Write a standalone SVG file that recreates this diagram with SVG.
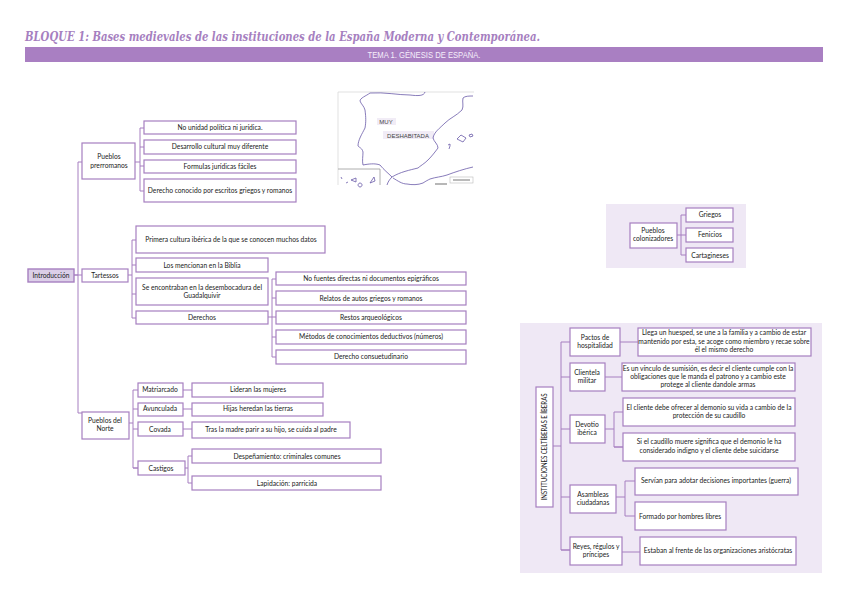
<svg xmlns="http://www.w3.org/2000/svg" width="848" height="600" viewBox="0 0 848 600">
<style>
text{font-family:Lato,"Liberation Sans",sans-serif;font-size:6.7px;fill:#222;text-anchor:middle}
.n rect{fill:#fff;stroke:#a67fc0;stroke-width:1.2}
.c path{fill:none;stroke:#a67fc0;stroke-width:1}
.m{fill:none;stroke:#6a5aa8;stroke-width:0.8}
.title{font-family:"DejaVu Serif",serif;font-style:italic;font-weight:bold;font-size:13.5px;fill:#a67fc0;text-anchor:start}
</style>
<rect x="606" y="204" width="140" height="64" fill="#efe8f5"/>
<rect x="520" y="323" width="302" height="250" fill="#efe8f5"/>
<text class="title" x="25" y="41" textLength="515" lengthAdjust="spacingAndGlyphs">BLOQUE 1: Bases medievales de las instituciones de la España Moderna y Contemporánea.</text>
<rect x="25" y="47" width="798" height="15" fill="#a97fc2"/>
<text x="424" y="58" style="font-size:9px;fill:#f5eefa;font-family:'Liberation Sans',sans-serif" textLength="113" lengthAdjust="spacingAndGlyphs">TEMA 1. GÉNESIS DE ESPAÑA.</text>
<g id="mapa">
<path d="M338 92H474M338 92V185" fill="none" stroke="#d4d4d4" stroke-width="0.7"/>
<path d="M338 169H380V185" fill="none" stroke="#999" stroke-width="0.8"/>
<rect x="377" y="118" width="19" height="7" fill="#f1ecf6"/>
<rect x="383" y="131" width="51" height="8" fill="#f1ecf6"/>
<path class="m" d="M425 92C424 96 418 96 410 95C398 95 385 92 370 93C366 96 360 98 360 101C361 104 364 106 365 110C366 118 366 122 365 128C362 134 358 140 358 146C360 148 362 148 363 152C363 156 362 161 363 165C368 164 375 163 380 165C384 170 388 173 392 177C389 180 388 182 387 185"/>
<path class="m" d="M473 96C469 96 465 96 463 98C462 102 464 106 462 110C456 116 450 118 445 123C440 128 434 132 433 138C434 142 438 144 438 148C435 152 432 156 428 160C424 164 420 166 418 168C410 170 400 172 392 177"/>
<path class="m" d="M393 178C398 181 402 184 407 184C412 185 418 185 423 183C426 181 428 180 430 179C436 177 441 177 447 175C455 172 464 169 473 167"/>
<path class="m" d="M457 139l4-4 5 3-3 4zM469 135l3-1 1 2-3 1zM448 145l2-1 0 2-1 3"/>
<path class="m" d="M341 177l1 2M346 183l2-1M351 180l5-2 0 4zM360 183a2 2 0 1 0 .1 0M370 183l4-6 1 4z"/>
<rect x="450" y="177" width="23" height="6" fill="#fff" stroke="#bbb" stroke-width="0.6"/>
<path d="M453 180H470" stroke="#777" stroke-width="1"/>
<path d="M435 184H447" stroke="#999" stroke-width="1.4"/>
<text x="386" y="124" style="font-size:6px;fill:#444;font-family:'Liberation Sans',sans-serif">MUY</text>
<text x="408" y="138" style="font-size:6px;fill:#444;font-family:'Liberation Sans',sans-serif">DESHABITADA</text>
</g>
<g class="c" id="conectores">
<path d="M74 275H78M78 162V413H82M78 162H82M74 275H82"/>
<path d="M135 162H140M140 128V191H144M140 128H144M140 147H144M140 166H144"/>
<path d="M128 275H132M132 240V318H136M132 240H136M132 265H136M132 294H136"/>
<path d="M268 317H272M272 279V357H276M272 279H276M272 298H276M272 317H276M272 337H276"/>
<path d="M129 423H133M133 390V468H138M133 390H138M133 409H138M133 429H138M133 468H138"/>
<path d="M183 390H192M183 409H192M183 429H192M185 468H188M188 456V483H192M188 456H192"/>
<path d="M677 235H681M681 215V255H686M681 215H686M681 235H686"/>
<path d="M553 446H561M561 342V550H570M561 342H570M561 377H570M561 429H570M561 497H570M561 550H570"/>
<path d="M620 342H638M605 377H622M605 429H614M614 412V447H623M614 412H623M614 447H623"/>
<path d="M616 497H625M625 481V516H635M625 481H635M622 552H640"/>
</g>
<g id="introduccion"><rect x="28" y="269" width="46" height="13" fill="#dccfe8" stroke="#a67fc0" stroke-width="1.4"/><text x="51" y="278">Introducción</text></g>
<g class="n" id="prerromanos"><rect x="82" y="143" width="53" height="36"/><text x="109" y="159">Pueblos</text><text x="109" y="168">prerromanos</text></g>
<g class="n" id="p1"><rect x="144" y="121" width="152" height="13"/><text x="220" y="130">No unidad política ni jurídica.</text></g>
<g class="n" id="p2"><rect x="144" y="140" width="152" height="14"/><text x="220" y="149">Desarrollo cultural muy diferente</text></g>
<g class="n" id="p3"><rect x="144" y="160" width="152" height="13"/><text x="220" y="169">Formulas jurídicas fáciles</text></g>
<g class="n" id="p4"><rect x="144" y="179" width="152" height="23"/><text x="220" y="193">Derecho conocido por escritos griegos y romanos</text></g>
<g class="n" id="tartessos"><rect x="82" y="269" width="46" height="13"/><text x="105" y="278">Tartessos</text></g>
<g class="n" id="t1"><rect x="136" y="226" width="189" height="27"/><text x="231" y="242">Primera cultura ibérica de la que se conocen muchos datos</text></g>
<g class="n" id="t2"><rect x="136" y="258" width="132" height="14"/><text x="202" y="268">Los mencionan en la Biblia</text></g>
<g class="n" id="t3"><rect x="136" y="278" width="132" height="27"/><text x="202" y="290">Se encontraban en la desembocadura del</text><text x="202" y="298">Guadalquivir</text></g>
<g class="n" id="t4"><rect x="136" y="311" width="132" height="13"/><text x="202" y="320">Derechos</text></g>
<g class="n" id="d1"><rect x="276" y="272" width="190" height="13"/><text x="371" y="281">No fuentes directas ni documentos epigráficos</text></g>
<g class="n" id="d2"><rect x="276" y="291" width="190" height="14"/><text x="371" y="301">Relatos de autos griegos y romanos</text></g>
<g class="n" id="d3"><rect x="276" y="311" width="190" height="13"/><text x="371" y="320">Restos arqueológicos</text></g>
<g class="n" id="d4"><rect x="276" y="330" width="190" height="14"/><text x="371" y="339">Métodos de conocimientos deductivos (números)</text></g>
<g class="n" id="d5"><rect x="276" y="350" width="190" height="14"/><text x="371" y="359">Derecho consuetudinario</text></g>
<g class="n" id="norte"><rect x="82" y="412" width="47" height="27"/><text x="105" y="423">Pueblos del</text><text x="105" y="431">Norte</text></g>
<g class="n" id="n1"><rect x="138" y="383" width="45" height="14"/><text x="160" y="392">Matriarcado</text></g>
<g class="n" id="n2"><rect x="138" y="403" width="45" height="13"/><text x="160" y="411">Avunculada</text></g>
<g class="n" id="n3"><rect x="138" y="422" width="45" height="14"/><text x="160" y="432">Covada</text></g>
<g class="n" id="n4"><rect x="138" y="461" width="47" height="14"/><text x="161" y="471">Castigos</text></g>
<g class="n" id="n1b"><rect x="192" y="383" width="131" height="14"/><text x="258" y="392">Lideran las mujeres</text></g>
<g class="n" id="n2b"><rect x="192" y="403" width="131" height="13"/><text x="258" y="411">Hijas heredan las tierras</text></g>
<g class="n" id="n3b"><rect x="192" y="422" width="158" height="16"/><text x="271" y="432">Tras la madre parir a su hijo, se cuida al padre</text></g>
<g class="n" id="n4a"><rect x="192" y="449" width="189" height="14"/><text x="287" y="459">Despeñamiento: criminales comunes</text></g>
<g class="n" id="n4b"><rect x="192" y="476" width="189" height="14"/><text x="287" y="486">Lapidación: parricida</text></g>
<g class="n" id="colonizadores"><rect x="630" y="223" width="47" height="25"/><text x="653" y="233">Pueblos</text><text x="653" y="241">colonizadores</text></g>
<g class="n" id="c1"><rect x="686" y="208" width="47" height="14"/><text x="710" y="217">Griegos</text></g>
<g class="n" id="c2"><rect x="686" y="228" width="47" height="14"/><text x="710" y="237">Fenicios</text></g>
<g class="n" id="c3"><rect x="686" y="248" width="47" height="14"/><text x="710" y="258">Cartagineses</text></g>
<g class="n" id="instituciones"><rect x="536" y="387" width="17" height="120"/><text transform="translate(547 447) rotate(-90)" textLength="107" lengthAdjust="spacingAndGlyphs">INSTITUCIONES CELTÍBERAS E ÍBERAS</text></g>
<g class="n" id="i1"><rect x="570" y="328" width="50" height="28"/><text x="595" y="340">Pactos de</text><text x="595" y="348">hospitalidad</text></g>
<g class="n" id="i1a"><rect x="638" y="328" width="173" height="28"/><text x="724" y="335">Llega un huesped, se une a la familia y a cambio de estar</text><text x="724" y="344">mantenido por esta, se acoge como miembro y recae sobre</text><text x="724" y="352">él el mismo derecho</text></g>
<g class="n" id="i2"><rect x="570" y="363" width="35" height="28"/><text x="587" y="375">Clientela</text><text x="587" y="383">militar</text></g>
<g class="n" id="i2a"><rect x="622" y="363" width="173" height="28"/><text x="708" y="371">Es un vínculo de sumisión, es decir el cliente cumple con la</text><text x="708" y="379">obligaciones que le manda el patrono y a cambio este</text><text x="708" y="387">protege al cliente dandole armas</text></g>
<g class="n" id="i3"><rect x="570" y="415" width="35" height="28"/><text x="587" y="427">Devotio</text><text x="587" y="435">ibérica</text></g>
<g class="n" id="i3a"><rect x="623" y="398" width="172" height="28"/><text x="709" y="410">El cliente debe ofrecer al demonio su vida a cambio de la</text><text x="709" y="418">protección de su caudillo</text></g>
<g class="n" id="i3b"><rect x="623" y="433" width="172" height="28"/><text x="709" y="444">Si el caudillo muere significa que el demonio le ha</text><text x="709" y="453">considerado indigno y el cliente debe suicidarse</text></g>
<g class="n" id="i4"><rect x="570" y="485" width="46" height="28"/><text x="593" y="497">Asambleas</text><text x="593" y="505">ciudadanas</text></g>
<g class="n" id="i4a"><rect x="635" y="468" width="163" height="27"/><text x="716" y="483">Servían para adotar decisiones importantes (guerra)</text></g>
<g class="n" id="i4b"><rect x="635" y="502" width="91" height="28"/><text x="680" y="519">Formado por hombres libres</text></g>
<g class="n" id="i5"><rect x="570" y="537" width="52" height="28"/><text x="596" y="549">Reyes, régulos y</text><text x="596" y="557">príncipes</text></g>
<g class="n" id="i5a"><rect x="640" y="537" width="156" height="28"/><text x="718" y="553">Estaban al frente de las organizaciones aristócratas</text></g>
</svg>
